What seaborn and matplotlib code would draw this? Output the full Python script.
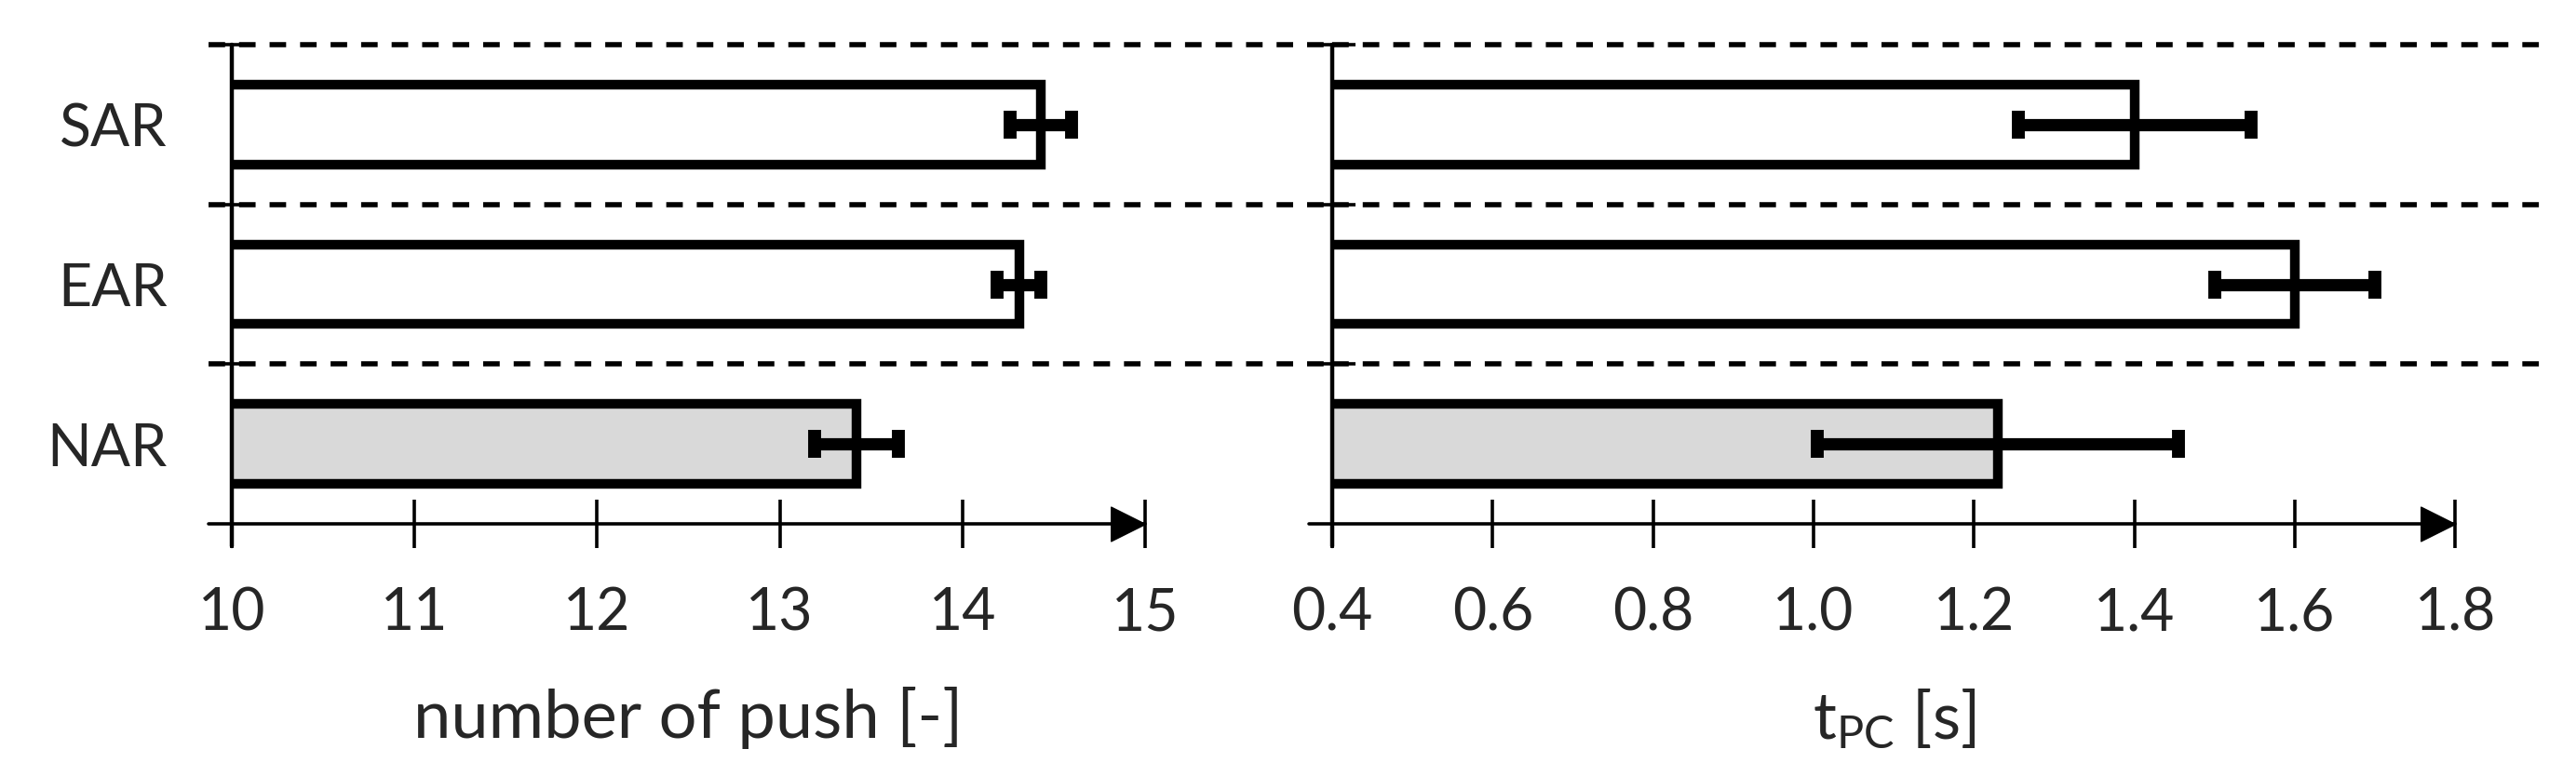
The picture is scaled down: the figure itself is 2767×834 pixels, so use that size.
import matplotlib
matplotlib.use("Agg")
import seaborn as sns
from matplotlib import pyplot as plt
from matplotlib import transforms as mtrans
from matplotlib.path import Path

categories = ["SAR", "EAR", "NAR"]
push_mean = [14.43, 14.31, 13.42]
push_err = [0.17, 0.12, 0.23]
tpc_mean = [1.40, 1.60, 1.23]
tpc_err = [0.145, 0.10, 0.225]
bar_colors = ["white", "white", "#d9d9d9"]

push_ticks = [10, 11, 12, 13, 14, 15]
tpc_ticks = [0.4, 0.6, 0.8, 1.0, 1.2, 1.4, 1.6, 1.8]

sns.set_style("white")
plt.rcParams["font.family"] = ["Lato", "DejaVu Sans"]
plt.rcParams["mathtext.fontset"] = "custom"
plt.rcParams["mathtext.rm"] = "Lato"
plt.rcParams["mathtext.it"] = "Lato:italic"

fig = plt.figure(figsize=(27.67, 8.34), dpi=100)
ax1 = fig.add_axes([0.0900, 0.3249, 0.3545, 0.6175])
ax2 = fig.add_axes([0.5172, 0.3249, 0.4359, 0.6175])

# arrow head, tip at the anchor point
arrow = Path([(0, 0), (-1, -0.5), (-1, 0.5), (0, 0)])


def draw_panel(ax, means, errs, ticks, xlabel, label_size, grid_right):
    sns.barplot(x=means, y=categories, hue=categories, palette=bar_colors,
                orient="h", width=0.5, edgecolor="black", linewidth=7.5,
                errorbar=None, legend=False, ax=ax)
    ax.errorbar(means, range(len(categories)), xerr=errs, fmt="none",
                ecolor="black", elinewidth=9.5, capsize=11, capthick=10, zorder=5)
    ax.set_xlim(ticks[0], ticks[-1])
    ax.set_ylim(len(categories) - 0.5, -0.5)
    for s in ax.spines.values():
        s.set_visible(False)

    ax.set_xticks(ticks)
    ax.set_xticklabels([f"{t:g}" if ax is ax1 else f"{t:.1f}" for t in ticks])
    ax.tick_params(axis="x", direction="inout", length=37, width=2.6,
                   pad=30, labelsize=45, color="black", bottom=True)

    ax.set_yticks(range(len(categories)))
    ax.set_yticks([i - 0.5 for i in range(len(categories))], minor=True)
    ax.tick_params(axis="y", which="major", length=0, pad=50, labelsize=45)
    ax.tick_params(axis="y", which="minor", direction="inout", length=36,
                   width=2.6, left=True, color="black")
    if ax is ax2:
        ax.set_yticklabels([])
    ax.set_ylabel("")
    ax.set_xlabel(xlabel, fontsize=label_size, labelpad=36)

    w = ax.bbox.width
    h = ax.bbox.height
    ext = 25 / w
    # x axis line with arrow
    ax.plot([-ext, 1], [0, 0], color="black", lw=2.6, transform=ax.transAxes,
            clip_on=False, zorder=6)
    ax.plot([1], [0], marker=arrow, markersize=53, color="black",
            transform=ax.transAxes, clip_on=False, zorder=6)
    # y axis line
    ax.plot([0, 0], [1, -24 / h], color="black", lw=3.2, transform=ax.transAxes,
            clip_on=False, zorder=6)
    # dashed separators
    tr = mtrans.blended_transform_factory(ax.transAxes, ax.transData)
    start = -ext if ax is ax1 else 0
    for y in [i - 0.5 for i in range(len(categories))]:
        ax.plot([start, grid_right], [y, y], color="black", lw=4,
                linestyle=(0, (3.2, 2.7)), transform=tr, clip_on=False, zorder=1)


fig.canvas.draw()
right1 = (ax2.bbox.x0 - ax1.bbox.x0) / ax1.bbox.width
right2 = (2732 - ax2.bbox.x0) / ax2.bbox.width
draw_panel(ax1, push_mean, push_err, push_ticks, "number of push [-]", 52, right1)
draw_panel(ax2, tpc_mean, tpc_err, tpc_ticks, r"$\mathrm{t_{PC}}$ [s]", 50, right2)

fig.savefig("out.png", dpi=100)
